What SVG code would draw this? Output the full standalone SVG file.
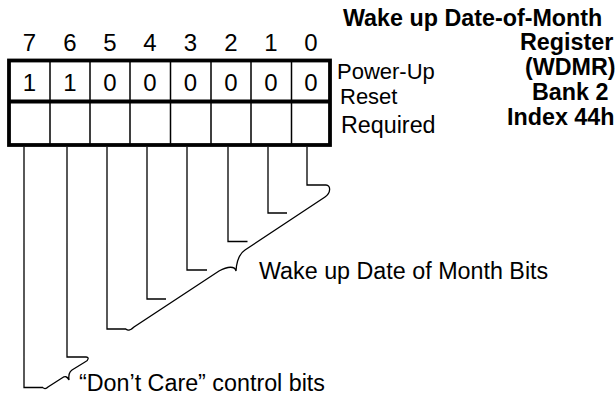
<svg xmlns="http://www.w3.org/2000/svg" width="616" height="398" viewBox="0 0 616 398">
<style>
text{font-family:"Liberation Sans",Arial,Helvetica,sans-serif;font-size:23.3px;fill:#000}
.b{font-weight:bold;font-size:23.3px}
.c{text-anchor:middle}
.d{font-size:24px}
.s{font-size:22px}
.thick{fill:none;stroke:#000;stroke-width:3.8}
.thin{fill:none;stroke:#000;stroke-width:1.5}
.con{fill:none;stroke:#000;stroke-width:1.3}
</style>
<rect width="616" height="398" fill="#fff"/>
<g id="title">
<text class="b" x="343" y="26">Wake up Date-of-Month</text>
<text class="b" x="520" y="50">Register</text>
<text class="b" x="525" y="75">(WDMR)</text>
<text class="b" x="532" y="100">Bank 2</text>
<text class="b" x="507" y="125">Index 44h</text>
</g>
<g id="bit-numbers">
<text class="c d" x="29.5" y="51">7</text>
<text class="c d" x="70" y="51">6</text>
<text class="c d" x="110" y="51">5</text>
<text class="c d" x="150" y="51">4</text>
<text class="c d" x="190.5" y="51">3</text>
<text class="c d" x="231" y="51">2</text>
<text class="c d" x="271" y="51">1</text>
<text class="c d" x="311" y="51">0</text>
</g>
<g id="register">
<path class="thin" d="M50,60V145M90,60V145M130,60V145M170.5,60V145M211,60V145M251,60V145M291.5,60V145"/>
<rect class="thick" x="9" y="60.5" width="321" height="84.5"/>
<path class="thick" d="M9,101.5H330"/>
<text class="c d" x="29.5" y="91">1</text>
<text class="c d" x="70" y="91">1</text>
<text class="c d" x="110" y="91">0</text>
<text class="c d" x="150" y="91">0</text>
<text class="c d" x="190.5" y="91">0</text>
<text class="c d" x="231" y="91">0</text>
<text class="c d" x="271" y="91">0</text>
<text class="c d" x="311" y="91">0</text>
</g>
<g id="row-labels">
<text class="s" x="337" y="79">Power-Up</text>
<text class="s" x="340" y="104">Reset</text>
<text x="341" y="133">Required</text>
</g>
<g id="connectors">
<path class="con" d="M307,147V185H326M268,147V213H287M228,147V241.5H247.5M187,147V270H207M147,147V299H166M107,147V329H126M67,147V357H86M24,147V387.5H43"/>
<path class="con" d="M326,185C331,185 331,193 325,197L245,250C239,254 236.5,262 236,271C235,266 228,266 219,271L134,327C131,330 128,331 126,329"/>
<path class="con" d="M86,357C89,357 89,360 85,362L72,370C69,372 68.5,376 69,380C67,376 65,376 62,378L48,387C46,389 44,389 43,387.5"/>
</g>
<g id="group-labels">
<text x="259" y="279">Wake up Date of Month Bits</text>
<text x="79" y="391">“Don’t Care” control bits</text>
</g>
</svg>
